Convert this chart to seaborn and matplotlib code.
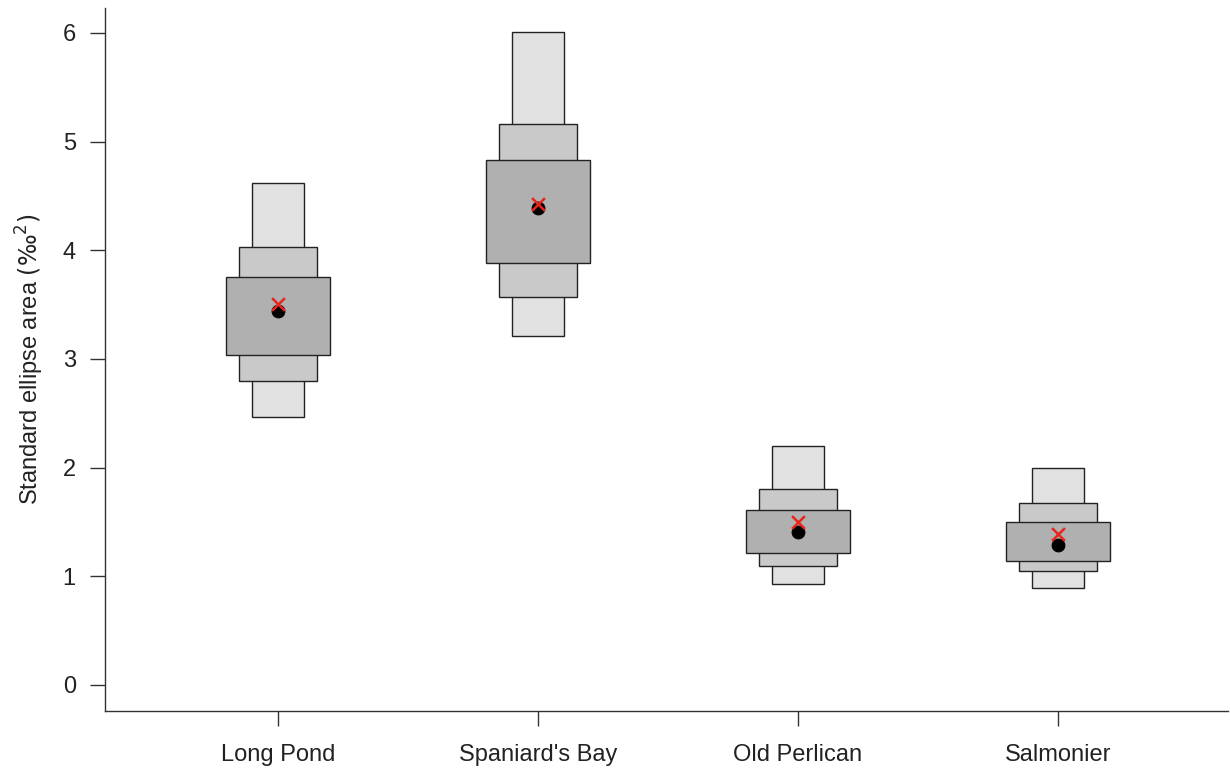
import matplotlib
matplotlib.use("Agg")
import matplotlib.pyplot as plt
import seaborn as sns
import numpy as np
import pandas as pd

sites = ["Long Pond", "Spaniard's Bay", "Old Perlican", "Salmonier"]
ci95_lo = [2.47, 3.21, 0.93, 0.89]
ci95_hi = [4.62, 6.01, 2.20, 2.00]
ci75_lo = [2.80, 3.57, 1.09, 1.05]
ci75_hi = [4.03, 5.16, 1.80, 1.67]
ci50_lo = [3.04, 3.88, 1.21, 1.14]
ci50_hi = [3.75, 4.83, 1.61, 1.50]
mode_vals = [3.44, 4.39, 1.41, 1.29]
ml_vals = [3.51, 4.43, 1.50, 1.39]
yticks = [0, 1, 2, 3, 4, 5, 6]

sns.set_style("white")
plt.rcParams['font.family'] = ['Liberation Sans', 'DejaVu Sans']

fig = plt.figure(figsize=(12.3, 7.72), dpi=100)
ax = fig.add_axes([105/1230, 61/772, (1228-105)/1230, (711-8)/772])

x = np.arange(len(sites))
layers = [(ci95_lo, ci95_hi, 0.2, "#e1e1e1"),
          (ci75_lo, ci75_hi, 0.3, "#c9c9c9"),
          (ci50_lo, ci50_hi, 0.4, "#b0b0b0")]
for lo, hi, w, c in layers:
    lo = np.array(lo); hi = np.array(hi)
    ax.bar(x, hi - lo, bottom=lo, width=w, color=c, edgecolor="#222222", linewidth=1.0, zorder=2)

df = pd.DataFrame({"x": x, "mode": mode_vals, "ml": ml_vals})
sns.scatterplot(data=df, x="x", y="mode", ax=ax, color="black", s=85, edgecolor="black", zorder=4, legend=False)
sns.scatterplot(data=df, x="x", y="ml", ax=ax, color="#e8251b", marker="x", s=85, linewidth=1.8, zorder=5, legend=False)

ax.set_xlim(-0.665, 3.654)
ax.set_ylim(-0.24, 6.23)
ax.set_xticks(x)
ax.set_xticklabels(sites)
ax.set_yticks(yticks)
ax.set_yticklabels([str(v) for v in yticks])
ax.set_xlabel("")
ax.set_ylabel(r"Standard ellipse area $\left(‰^{2}\right)$", fontsize=17, labelpad=12, color="#222222")
ax.tick_params(axis="both", direction="out", length=11, width=1, color="#333333", labelsize=17,
               labelcolor="#222222", bottom=True, left=True)
ax.tick_params(axis="x", pad=13)
ax.tick_params(axis="y", pad=10)
for s in ["top", "right"]:
    ax.spines[s].set_visible(False)
for s in ["left", "bottom"]:
    ax.spines[s].set_color("#333333")
    ax.spines[s].set_linewidth(1.0)

fig.savefig("out.png", dpi=100)
